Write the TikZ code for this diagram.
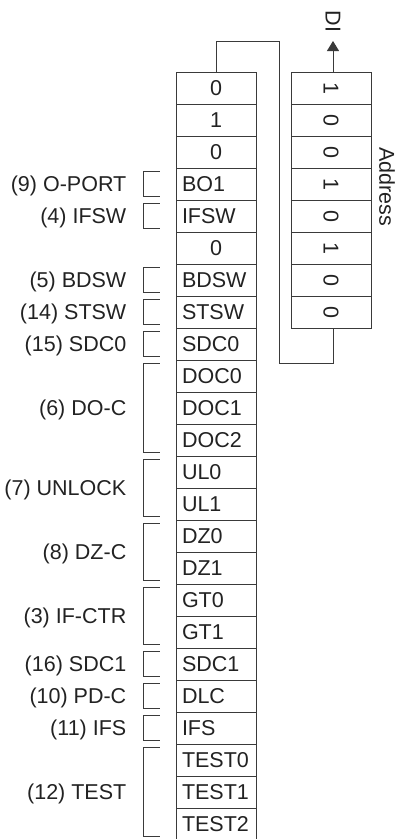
\documentclass[tikz,border=0pt]{standalone}
\usepackage{fontspec}
\setmainfont{Liberation Sans}
\usetikzlibrary{arrows.meta,calc}
\definecolor{lc}{HTML}{3A3A3A}
\definecolor{tc}{HTML}{222222}
\begin{document}
\begin{tikzpicture}[x=1pt,y=-1pt,
  every node/.style={font=\fontsize{21.5}{25}\selectfont, text=tc},
  cell/.style={draw=lc, line width=1pt, minimum height=32pt, inner sep=0pt,
    inner xsep=6pt, text width=68pt, text height=15.4pt, text depth=0pt},
  rcell/.style={draw=lc, line width=1pt, minimum width=80pt, minimum height=32pt, inner sep=0pt},
  ln/.style={draw=lc, line width=1pt},
  br/.style={draw=lc, line width=1pt},
  lbl/.style={anchor=base east, inner sep=0pt},
  vlbl/.style={rotate=-90, inner sep=0pt}
]
\useasboundingbox (0,0) rectangle (406,839);
% left register column
\foreach \t/\a [count=\i from 0] in {0/center,1/center,0/center,BO1/left,IFSW/left,0/center,BDSW/left,STSW/left,SDC0/left,DOC0/left,DOC1/left,DOC2/left,UL0/left,UL1/left,DZ0/left,DZ1/left,GT0/left,GT1/left,SDC1/left,DLC/left,IFS/left,TEST0/left,TEST1/left,TEST2/left}
  \node[cell, align=\a] (c\i) at (216, {88+32*\i}) {\t};
% right address column
\foreach \t [count=\i from 0] in {1,0,0,1,0,1,0,0}
  \node[rcell] (r\i) at (331, {88+32*\i}) {\rotatebox{-90}{\t}};
% labels
\node[vlbl] (di) at (333,21.5) {DI};
\node[vlbl] (addr) at (387,187) {Address};
\coordinate (ditip) at (333,41);
\draw[ln,-{Triangle[length=10pt,width=12pt]}] ([xshift=2pt]r0.north) -- (ditip);
\coordinate (loopTR) at (279,41);
\coordinate (loopBR) at (279,363);
\draw[ln] (c0.north) |- (loopTR) -- (loopBR) -| ([xshift=2pt]r7.south);
% brackets and group labels
\foreach \lab/\s/\e in {(9) O-PORT/3/3,(4) IFSW/4/4,(5) BDSW/6/6,(14) STSW/7/7,(15) SDC0/8/8,(6) DO-C/9/11,(7) UNLOCK/12/13,(8) DZ-C/14/15,(3) IF-CTR/16/17,(16) SDC1/18/18,(10) PD-C/19/19,(11) IFS/20/20,(12) TEST/21/23}{
  \draw[br] ($(c\s.north west)+(-16,4)$) -- ++(-16,0) |- ($(c\e.south west)+(-16,-4)$);
  \node[lbl] (g\s) at ($(c\s.north west)!0.5!(c\e.south west)+(-49,7.7)$) {\lab};
}
\end{tikzpicture}
\end{document}
